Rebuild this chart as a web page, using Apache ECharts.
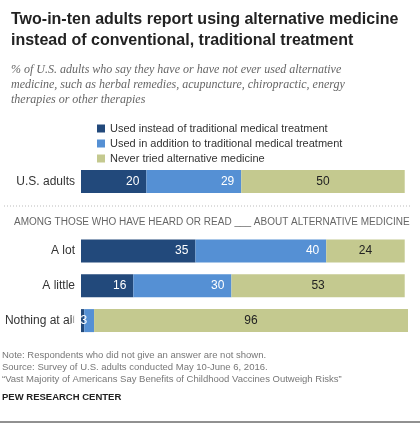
<!DOCTYPE html>
<html><head><meta charset="utf-8">
<script src="https://cdn.jsdelivr.net/npm/echarts@6/dist/echarts.min.js"></script>
<style>html,body{margin:0;padding:0;background:#fff}#c{width:420px;height:423px}</style>
</head><body><div id="c"></div>
<script>
var categories=['U.S. adults','','A lot','A little','Nothing at all'];
var instead=[20,null,35,16,1];
var addition=[29,null,40,30,3];
var never=[50,null,24,53,96];
var names=['Used instead of traditional medical treatment','Used in addition to traditional medical treatment','Never tried alternative medicine'];
var colors=['#22497b','#5590d4','#c4c98f'];

var chart=echarts.init(document.getElementById('c'));
var F='Liberation Sans, Arial, sans-serif';
function ser(i,d,txt,pos){
  return {name:names[i],type:'bar',stack:'a',barWidth:23,data:d,
    itemStyle:{color:colors[i]},
    label:{show:true,position:pos,color:txt,fontSize:12,fontFamily:F,distance:pos==='insideRight'?7:0}};
}
chart.setOption({
  animation:false,
  title:[{text:'Two-in-ten adults report using alternative medicine\ninstead of conventional, traditional treatment',left:6,top:4,
    textStyle:{fontSize:16,fontWeight:'bold',fontFamily:F,color:'#222',lineHeight:21}},
    {text:'% of U.S. adults who say they have or have not ever used alternative\nmedicine, such as herbal remedies, acupuncture, chiropractic, energy\ntherapies or other therapies',left:6,top:57,
    textStyle:{fontSize:12,fontStyle:'italic',fontWeight:'normal',fontFamily:'Liberation Serif, serif',color:'#666',lineHeight:15}}],
  legend:{orient:'vertical',left:92,top:118,itemWidth:8,itemHeight:8,itemGap:4,icon:'rect',
    textStyle:{fontSize:11,fontFamily:F,color:'#333'},data:names},
  grid:{left:81,top:164,width:327,height:174},
  xAxis:{type:'value',min:0,max:100,show:false},
  yAxis:{type:'category',inverse:true,data:categories,axisLine:{show:false},axisTick:{show:false},
    axisLabel:{fontSize:12,fontFamily:F,color:'#333',margin:6}},
  series:[ser(0,instead,'#fff','insideRight'),ser(1,addition,'#fff','insideRight'),ser(2,never,'#222','inside')],
  graphic:[
    {type:'line',shape:{x1:4,y1:206,x2:412,y2:206},style:{stroke:'#bbb',lineDash:[1,2],lineWidth:1}},
    {type:'text',left:14,top:217,style:{text:'AMONG THOSE WHO HAVE HEARD OR READ ___ ABOUT ALTERNATIVE MEDICINE',fontSize:10,fontFamily:F,fill:'#666'}},
    {type:'text',left:2,top:349,style:{text:'Note: Respondents who did not give an answer are not shown.\nSource: Survey of U.S. adults conducted May 10-June 6, 2016.\n\u201cVast Majority of Americans Say Benefits of Childhood Vaccines Outweigh Risks\u201d',fontSize:9.5,fontFamily:F,fill:'#777',lineHeight:12}},
    {type:'text',left:2,top:392,style:{text:'PEW RESEARCH CENTER',fontSize:9.5,fontWeight:'bold',fontFamily:F,fill:'#222'}},
    {type:'line',shape:{x1:0,y1:422,x2:420,y2:422},style:{stroke:'#222',lineWidth:1}}
  ]
});
</script></body></html>
